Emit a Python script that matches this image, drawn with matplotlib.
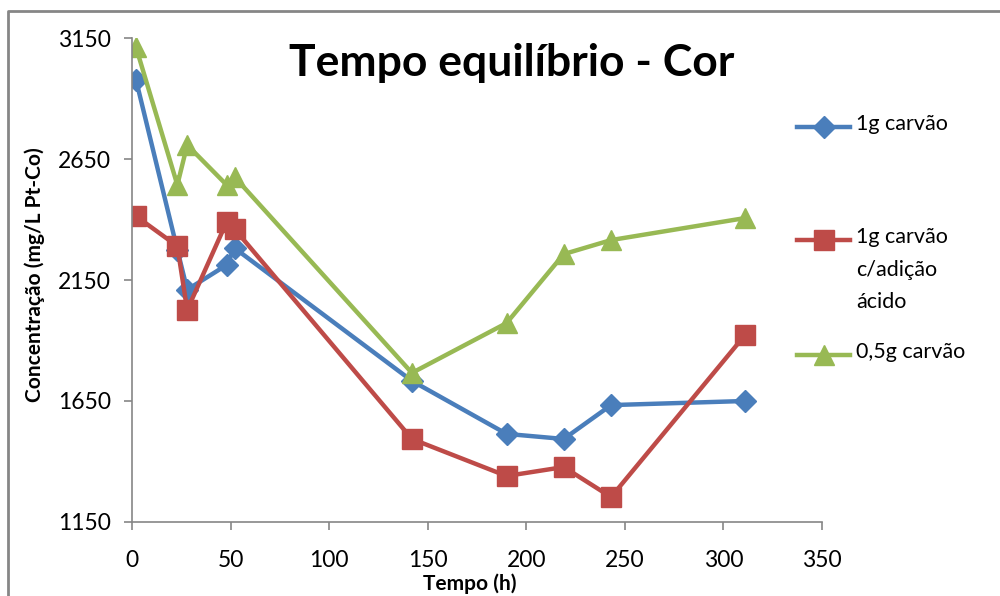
import matplotlib
matplotlib.use("Agg")
from matplotlib import pyplot as plt
from matplotlib.lines import Line2D

plt.rcParams['font.family'] = ['Lato', 'DejaVu Sans']

# tempo (h)
tempo = [2, 23, 28, 48, 52, 142, 190, 219, 243, 311]

# concentração (mg/L Pt-Co)
carvao_1g = [2978, 2275, 2110, 2212, 2282, 1733, 1514, 1493, 1633, 1650]
carvao_1g_acido = [2414, 2290, 2026, 2390, 2361, 1493, 1340, 1377, 1253, 1923]
carvao_05g = [3113, 2543, 2708, 2543, 2576, 1766, 1972, 2257, 2315, 2406]

labels = ['1g carvão', '1g carvão\nc/adição\nácido', '0,5g carvão']
colors = ['#4A7EBB', '#BE4B48', '#98B954']
markers = ['D', 's', '^']
msizes = [11, 14, 15]

fig = plt.figure(figsize=(10, 5.96), dpi=100)
ax = fig.add_axes([0.132, 0.1242, 0.69, 0.812])

series = [carvao_1g, carvao_1g_acido, carvao_05g]
for vals, c, m, ms in zip(series, colors, markers, msizes):
    ax.plot(tempo, vals, color=c, lw=3.2, marker=m, ms=ms, mec=c, mfc=c)

ax.set_xlim(0, 350)
ax.set_ylim(1150, 3150)
ax.set_xticks(range(0, 351, 50))
ax.set_yticks([1150, 1650, 2150, 2650, 3150])
for s in ['top', 'right']:
    ax.spines[s].set_visible(False)
for s in ['left', 'bottom']:
    ax.spines[s].set_color('#868686')
    ax.spines[s].set_linewidth(1.2)
ax.tick_params(direction='out', length=6, width=1.2, color='#868686',
               labelsize=16.5, pad=9)
ax.tick_params(axis='x', pad=14)

# títulos dos eixos
fig.text(0.47, 0.021, 'Tempo (h)', ha='center', va='center',
         fontsize=15, fontweight='bold')
fig.text(0.035, 0.539, 'Concentração (mg/L Pt-Co)', ha='center', va='center',
         rotation=90, fontsize=15, fontweight='bold')

fig.text(0.512, 0.895, 'Tempo equilíbrio - Cor', ha='center', va='center',
         fontsize=32, fontweight='bold')

# legenda
leg_y = [0.787, 0.597, 0.404]
for y, lab, c, m, ms in zip(leg_y, labels, colors, markers, msizes):
    fig.lines.append(Line2D([0.797, 0.850], [y, y], transform=fig.transFigure,
                            color=c, lw=3.2))
    fig.lines.append(Line2D([0.8235], [y], transform=fig.transFigure,
                            color=c, marker=m, ms=ms, mec=c, mfc=c))
    fig.text(0.856, y + 0.022, lab, ha='left', va='top', fontsize=15.5,
             linespacing=1.78)

# moldura
fig.lines.append(Line2D([0.008, 0.008, 1.0], [0.0, 0.981, 0.981],
                        transform=fig.transFigure, color='#868686', lw=2))

fig.savefig('out.png', dpi=100)
